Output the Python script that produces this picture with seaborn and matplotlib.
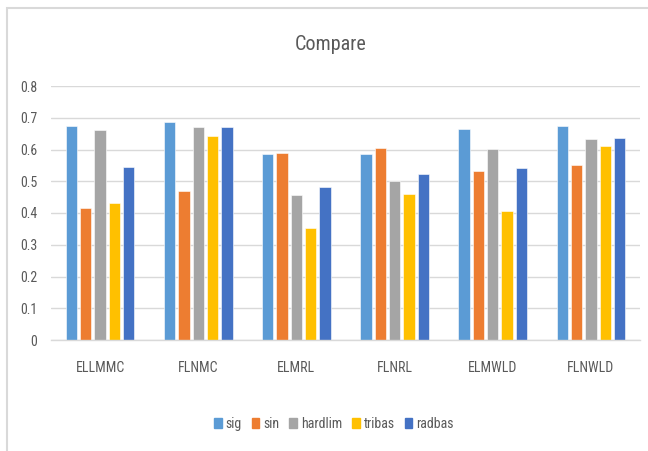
import matplotlib
matplotlib.use("Agg")
import matplotlib.pyplot as plt
import matplotlib.patches as mpatches
from matplotlib import font_manager
import seaborn as sns
import pandas as pd

categories = ["ELLMMC", "FLNMC", "ELMRL", "FLNRL", "ELMWLD", "FLNWLD"]
series = ["sig", "sin", "hardlim", "tribas", "radbas"]
sig = [0.675, 0.686, 0.586, 0.586, 0.666, 0.675]
sin = [0.415, 0.468, 0.589, 0.605, 0.532, 0.551]
hardlim = [0.660, 0.670, 0.456, 0.500, 0.602, 0.634]
tribas = [0.430, 0.643, 0.353, 0.459, 0.406, 0.611]
radbas = [0.545, 0.670, 0.481, 0.522, 0.541, 0.637]
colors = ["#5B9BD5", "#ED7D31", "#A5A5A5", "#FFC000", "#4472C4"]

values = {"sig": sig, "sin": sin, "hardlim": hardlim, "tribas": tribas, "radbas": radbas}
df = pd.DataFrame(
    [(c, s, values[s][i]) for s in series for i, c in enumerate(categories)],
    columns=["category", "series", "value"],
)

sns.set_theme(style="white")
names = {f.name for f in font_manager.fontManager.ttflist}
narrow = [n for n in ["Liberation Sans Narrow", "Roboto Condensed", "Open Sans Condensed"] if n in names]
plt.rcParams["font.family"] = narrow + ["DejaVu Sans"]
plt.rcParams["font.stretch"] = "condensed"

text_color = "#595959"
grid_color = "#D9D9D9"

fig = plt.figure(figsize=(6.48, 4.51), dpi=100)
ax = fig.add_axes([51 / 648, 1 - 340 / 451, (640 - 51) / 648, (340 - 86) / 451])

sns.barplot(
    data=df, x="category", y="value", hue="series", order=categories,
    hue_order=series, palette=colors, saturation=1, width=0.73, gap=0.2,
    edgecolor="white", linewidth=0.4, ax=ax, legend=False,
)

ax.set_xlim(-0.5, len(categories) - 0.5)
ax.set_ylim(0, 0.8)
ax.set_yticks([i / 10 for i in range(9)])
ax.set_yticklabels(["0"] + [f"0.{i}" for i in range(1, 9)])
ax.yaxis.grid(True, color=grid_color, linewidth=1.0)
ax.set_axisbelow(True)
for side in ["top", "right", "left"]:
    ax.spines[side].set_visible(False)
ax.spines["bottom"].set_color(grid_color)
ax.spines["bottom"].set_linewidth(1.0)
ax.tick_params(axis="both", length=0, colors=text_color, labelsize=10)
ax.tick_params(axis="x", pad=15)
ax.tick_params(axis="y", pad=10)
ax.set_xlabel("")
ax.set_ylabel("")

fig.text(331 / 648, 1 - 45 / 451, "Compare", ha="center", va="center",
         fontsize=14.5, color=text_color)

handles = [mpatches.Patch(color=c, label=s) for s, c in zip(series, colors)]
fig.legend(handles=handles, loc="center", bbox_to_anchor=(334 / 648, 1 - 424 / 451),
           ncol=5, frameon=False, handlelength=0.55, handleheight=0.75,
           handletextpad=0.3, columnspacing=0.7, labelcolor=text_color,
           fontsize=10)

# outer chart frame
fig.add_artist(mpatches.Rectangle((7 / 648, -0.1), 1.2, 1 - 8 / 451 + 0.1,
                                  transform=fig.transFigure, fill=False,
                                  edgecolor="#D9D9D9", linewidth=1.5))

fig.savefig("out.png", dpi=100, facecolor="white")
